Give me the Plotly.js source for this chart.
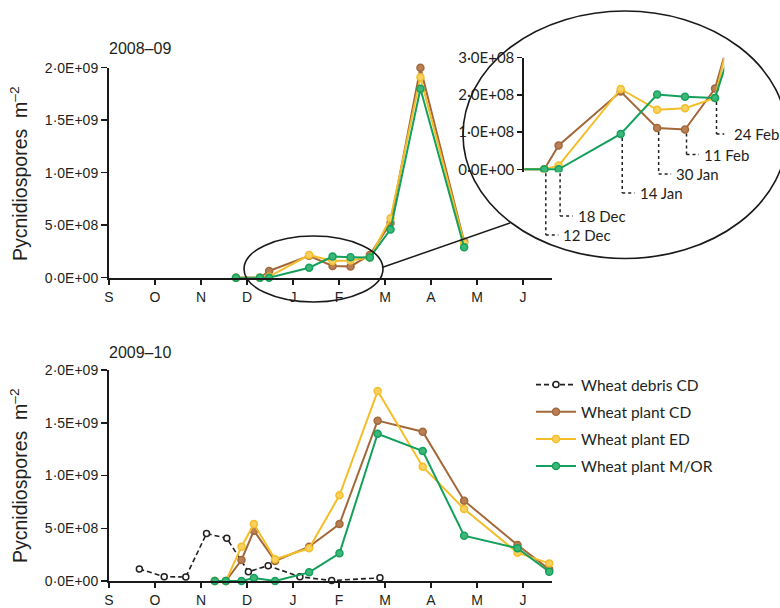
<!DOCTYPE html>
<html><head><meta charset="utf-8">
<script src="https://cdn.plot.ly/plotly-3.0.1.min.js"></script>
<style>html,body{margin:0;padding:0;background:#fff}#chart{width:780px;height:608px}</style>
</head><body><div id="chart"></div>
<script>
// ---------- DATA ----------
// x positions are months since the start of September (S = 0, O = 1, ... J = 9)
const monthTicks = [0, 1, 2, 3, 4, 5, 6, 7, 8, 9];
const monthLabels = ['S', 'O', 'N', 'D', 'J', 'F', 'M', 'A', 'M', 'J'];
const yTickVals = [0, 5e8, 1e9, 1.5e9, 2e9];
const yTickText = ['0·0E+00', '5·0E+08', '1·0E+09', '1·5E+09', '2·0E+09'];
const insetTickVals = [0, 1e8, 2e8, 3e8];
const insetTickText = ['0·0E+00', '1·0E+08', '2·0E+08', '3·0E+08'];

// 2008–09
const x0809 = [2.76, 3.28, 3.48, 4.35, 4.86, 5.25, 5.67, 6.12, 6.77, 7.72];
const cd0809 = [0, 0, 0.064e9, 0.209e9, 0.111e9, 0.107e9, 0.217e9, 0.52e9, 2.00e9, 0.343e9];
const ed0809 = [0, 0, 0.010e9, 0.216e9, 0.160e9, 0.164e9, 0.192e9, 0.566e9, 1.91e9, 0.33e9];
const mor0809 = [0, 0, 0, 0.095e9, 0.201e9, 0.195e9, 0.192e9, 0.46e9, 1.80e9, 0.29e9];

// inset sampling dates (subset of x0809)
const insetDates = [3.28, 3.48, 4.35, 4.86, 5.25, 5.67];
const insetDateLabels = ['12 Dec', '18 Dec', '14 Jan', '30 Jan', '11 Feb', '24 Feb'];

// 2009–10
const xDebris = [0.66, 1.20, 1.67, 2.12, 2.56, 3.03, 3.46, 4.15, 4.84, 5.89];
const debris0910 = [0.114e9, 0.041e9, 0.038e9, 0.45e9, 0.405e9, 0.088e9, 0.145e9, 0.04e9, 0.004e9, 0.03e9];
const x0910 = [2.30, 2.54, 2.88, 3.15, 3.61, 4.35, 5.01, 5.84, 6.82, 7.72, 8.88, 9.57];
const cd0910 = [0, 0, 0.199e9, 0.477e9, 0.19e9, 0.325e9, 0.54e9, 1.52e9, 1.415e9, 0.761e9, 0.341e9, 0.11e9];
const ed0910 = [0, 0, 0.325e9, 0.54e9, 0.206e9, 0.31e9, 0.812e9, 1.80e9, 1.084e9, 0.682e9, 0.268e9, 0.167e9];
const mor0910 = [0, 0, 0, 0.028e9, 0, 0.082e9, 0.262e9, 1.396e9, 1.232e9, 0.43e9, 0.31e9, 0.088e9];

const seriesNames = ['Wheat debris CD', 'Wheat plant CD', 'Wheat plant ED', 'Wheat plant M/OR'];

// ---------- STYLE ----------
const W = 780, H = 608;
const px = v => v / W;
const py = v => 1 - v / H;
const C = {
  debris: '#231f20',
  cd: {line: '#a3683a', fill: '#b98055'},
  ed: {line: '#f4be2a', fill: '#f8d15f'},
  mor: {line: '#14a05c', fill: '#3bb878'}
};
const txt = '#231f20';
const arial = 'Liberation Sans, Arial, sans-serif';
const cal = 'Lato, Open Sans, sans-serif';

function plantTrace(x, y, c, name, xa, ya, showleg, clip) {
  return {
    type: 'scatter', mode: 'lines+markers', x: x, y: y, name: name,
    xaxis: xa, yaxis: ya, showlegend: showleg, legendgroup: name,
    line: {color: c.line, width: 2},
    marker: {size: 7, color: c.fill, line: {color: c.line, width: 1.5}},
    cliponaxis: clip, hoverinfo: 'skip'
  };
}

const traces = [
  // top
  plantTrace(x0809, cd0809, C.cd, seriesNames[1], 'x', 'y', false, false),
  plantTrace(x0809, ed0809, C.ed, seriesNames[2], 'x', 'y', false, false),
  plantTrace(x0809, mor0809, C.mor, seriesNames[3], 'x', 'y', false, false),
  // inset
  plantTrace(x0809, cd0809, C.cd, seriesNames[1], 'x3', 'y3', false, true),
  plantTrace(x0809, ed0809, C.ed, seriesNames[2], 'x3', 'y3', false, true),
  plantTrace(x0809, mor0809, C.mor, seriesNames[3], 'x3', 'y3', false, true),
  // bottom
  {
    type: 'scatter', mode: 'lines+markers', x: xDebris, y: debris0910, name: seriesNames[0],
    xaxis: 'x2', yaxis: 'y2', legendgroup: seriesNames[0],
    line: {color: C.debris, width: 1.6, dash: '5px,3px'},
    marker: {size: 6, color: '#ffffff', line: {color: C.debris, width: 1.5}},
    cliponaxis: false, hoverinfo: 'skip'
  },
  plantTrace(x0910, cd0910, C.cd, seriesNames[1], 'x2', 'y2', true, false),
  plantTrace(x0910, ed0910, C.ed, seriesNames[2], 'x2', 'y2', true, false),
  plantTrace(x0910, mor0910, C.mor, seriesNames[3], 'x2', 'y2', true, false)
];

// ---------- LAYOUT ----------
const xDom = [px(109), px(552)];
const xRange = [0, 9.63];
const topDom = [py(277.7), py(67.7)];
const botDom = [py(581), py(370)];
const insRange = [-0.08e8, 3e8];
const insDom = [py(172.3), py(57.7)];
const insXRange = [3.0, 5.8];

function xAx(anchor) {
  return {
    domain: xDom, range: xRange, anchor: anchor,
    tickmode: 'array', tickvals: monthTicks, ticktext: monthLabels,
    ticks: 'outside', ticklen: 5, tickwidth: 1.5, tickcolor: '#1a1a1a',
    showline: true, linewidth: 2, linecolor: '#1a1a1a',
    showgrid: false, zeroline: false, ticklabelstandoff: 0,
    tickfont: {family: arial, size: 14, color: txt}, fixedrange: true
  };
}
function yAx(dom, anchor) {
  return {
    domain: dom, range: [0, 2e9], anchor: anchor,
    tickmode: 'array', tickvals: yTickVals, ticktext: yTickText,
    ticks: 'outside', ticklen: 6, tickwidth: 1.5, tickcolor: '#1a1a1a',
    showline: true, linewidth: 2, linecolor: '#1a1a1a',
    showgrid: false, zeroline: false,
    tickfont: {family: arial, size: 14, color: txt}, fixedrange: true
  };
}

function y3ToPaper(v) {
  return insDom[0] + (v - insRange[0]) / (insRange[1] - insRange[0]) * (insDom[1] - insDom[0]);
}

// leader label vertical positions (px from top of page)
const leaderLabelY = [235, 216, 193, 174, 154.5, 134];

const shapes = [
  // zoom ellipse in main chart
  {type: 'circle', xref: 'paper', yref: 'paper', x0: px(244), x1: px(383), y0: py(302), y1: py(236),
   line: {color: '#1a1a1a', width: 1.6}, layer: 'above'},
  // large inset ellipse
  {type: 'circle', xref: 'paper', yref: 'paper', x0: px(463), x1: px(787), y0: py(258.5), y1: py(11),
   line: {color: '#1a1a1a', width: 1.6}, layer: 'above'},
  // connector
  {type: 'line', xref: 'paper', yref: 'paper', x0: px(382), y0: py(267.5), x1: px(510), y1: py(223),
   line: {color: '#1a1a1a', width: 1.5}, layer: 'above'}
];
const annotations = [
  {xref: 'paper', yref: 'paper', x: px(107), y: py(49), xanchor: 'left', yanchor: 'middle',
   text: '2008–09', showarrow: false, font: {family: arial, size: 16, color: txt}},
  {xref: 'paper', yref: 'paper', x: px(107), y: py(352), xanchor: 'left', yanchor: 'middle',
   text: '2009–10', showarrow: false, font: {family: arial, size: 16, color: txt}},
  {xref: 'paper', yref: 'paper', x: px(19), y: py(174), textangle: -90, xanchor: 'center', yanchor: 'middle',
   text: 'Pycnidiospores  m<sup>–2</sup>', showarrow: false, font: {family: arial, size: 19.5, color: txt}},
  {xref: 'paper', yref: 'paper', x: px(19), y: py(476), textangle: -90, xanchor: 'center', yanchor: 'middle',
   text: 'Pycnidiospores  m<sup>–2</sup>', showarrow: false, font: {family: arial, size: 19.5, color: txt}}
];

insetDates.forEach((d, i) => {
  const k = x0809.indexOf(d);
  const vmin = Math.min(cd0809[k], ed0809[k], mor0809[k]);
  const ly = py(leaderLabelY[i]);
  shapes.push({type: 'line', xref: 'x3', xsizemode: 'pixel', xanchor: d, x0: 1.5, x1: 1.5,
    yref: 'paper', y0: y3ToPaper(vmin) - 4 / H, y1: ly,
    line: {color: '#222', width: 1.5, dash: 'dot'}, layer: 'above'});
  shapes.push({type: 'line', xref: 'x3', xsizemode: 'pixel', xanchor: d, x0: 1.5, x1: 14,
    yref: 'paper', y0: ly, y1: ly,
    line: {color: '#222', width: 1.5, dash: 'dot'}, layer: 'above'});
  annotations.push({xref: 'x3', x: d, xshift: 17, xanchor: 'left', yref: 'paper', y: ly, yanchor: 'middle',
    text: insetDateLabels[i], showarrow: false, font: {family: cal, size: 15, color: txt}});
});

const layout = {
  width: W, height: H,
  margin: {l: 0, r: 0, t: 0, b: 0},
  paper_bgcolor: '#ffffff', plot_bgcolor: 'rgba(0,0,0,0)',
  showlegend: true,
  legend: {
    x: px(531), y: py(368), xanchor: 'left', yanchor: 'top',
    traceorder: 'grouped', tracegroupgap: 4, itemwidth: 40,
    font: {family: cal, size: 15.5, color: txt}, bgcolor: 'rgba(0,0,0,0)', itemclick: false
  },
  xaxis: xAx('y'),
  yaxis: yAx(topDom, 'x'),
  xaxis2: xAx('y2'),
  yaxis2: yAx(botDom, 'x2'),
  xaxis3: {domain: [px(524.3), px(724.3)], range: insXRange, anchor: 'y3', visible: false, fixedrange: true},
  yaxis3: {
    domain: insDom, range: insRange, anchor: 'x3',
    tickmode: 'array', tickvals: insetTickVals, ticktext: insetTickText,
    ticks: 'outside', ticklen: 5, tickwidth: 1.5, tickcolor: '#1a1a1a',
    showline: true, linewidth: 2, linecolor: '#1a1a1a',
    showgrid: false, zeroline: false,
    tickfont: {family: cal, size: 15, color: txt}, fixedrange: true
  },
  shapes: shapes,
  annotations: annotations
};

Plotly.newPlot('chart', traces, layout, {displayModeBar: false, staticPlot: true});
</script>
</body></html>
